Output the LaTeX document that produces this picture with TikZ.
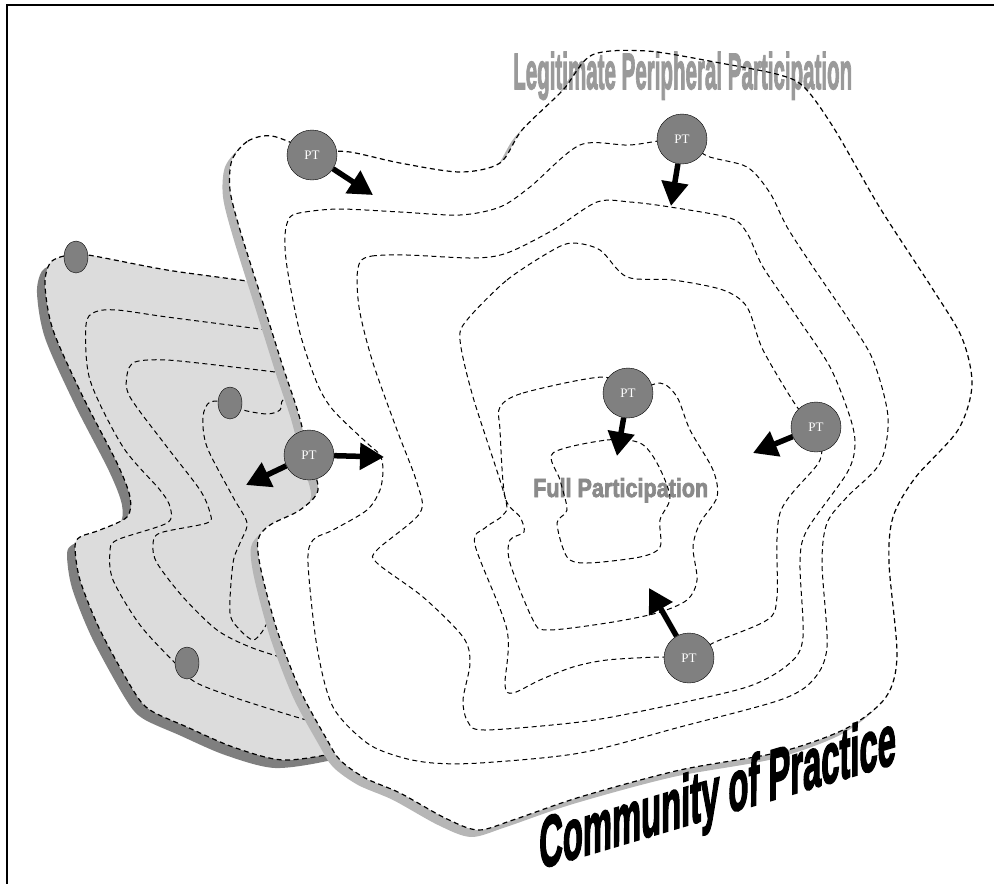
\documentclass[tikz,border=0pt]{standalone}
\usepackage{fontspec}
\setmainfont{Liberation Serif}
\newfontfamily\headfont[FakeBold=3]{Liberation Sans Bold}
\usepackage{tikz}
\usetikzlibrary{arrows.meta,shapes.geometric}
\definecolor{ptgray}{HTML}{808080}
\definecolor{cpfill}{HTML}{DCDCDC}
\definecolor{cpshade}{HTML}{7F7F7F}
\definecolor{bigshade}{HTML}{B6B6B6}
\definecolor{lppgray}{HTML}{9A9A9A}
\definecolor{fpgray}{HTML}{8A8A8A}
\newcommand{\bigedge}{plot[smooth cycle] coordinates {(232,160) (248,141) (272,136) (312,150) (350,152) (400,163) (460,172) (500,163) (522,130) (563,90) (592,55) (647,51) (720,63) (780,75) (805,88) (835,130) (880,208) (932,288) (962,338) (972,385) (958,430) (915,478) (893,517) (889,563) (897,655) (886,697) (847,728) (780,752) (680,770) (580,797) (513,820) (478,830) (445,818) (400,793) (365,778) (340,760) (326,738) (300,690) (277,630) (261,570) (258,540) (270,525) (300,510) (318,490) (309,455) (298,412) (283,367) (262,300) (240,230) (230,190)}}
\newcommand{\smalledge}{plot[smooth cycle] coordinates {(50,263) (64,256) (76,257) (88,255) (167,270) (253,282) (300,292) (320,380) (335,460) (345,520) (360,650) (370,740) (340,752) (283,760) (233,747) (187,727) (150,710) (133,690) (100,630) (80,580) (75,547) (80,537) (100,530) (127,517) (130,497) (117,463) (83,397) (53,330) (45,285)}}
\begin{document}
\begin{tikzpicture}[x=1pt,y=-1pt,
    ring/.style={dash pattern=on 5pt off 3.5pt,line width=1pt},
    rim/.style={dash pattern=on 5pt off 3.5pt,line width=1.2pt},
    pt/.style={circle,draw,thin,fill=ptgray,minimum size=50pt,inner sep=0pt,
      text=white,font=\fontsize{13}{13}\selectfont},
    member/.style={ellipse,draw,thin,fill=ptgray,minimum width=24pt,minimum height=32pt,inner sep=0pt},
    move/.style={-{Triangle[length=24pt,width=26pt]},line width=5.5pt},
    ]
    \useasboundingbox (0,0) rectangle (994,884);
    \draw[line width=2.5pt] (7,884) -- (7,5) -- (994,5);

    % small community on the left
    \fill[cpshade,shift={(-8,8)}] \smalledge;
    \filldraw[rim,fill=cpfill] \smalledge;
    \draw[ring] plot[smooth] coordinates {(300,336) (267,330) (167,317) (117,310) (95,312) (86,325) (90,380) (123,447) (160,490) (170,507) (167,523) (117,540) (110,552) (113,580) (140,625) (175,663) (195,682) (233,697) (283,713) (317,723) (345,730)};
    \draw[ring] plot[smooth] coordinates {(300,376) (283,373) (233,367) (167,360) (135,362) (127,375) (130,397) (167,447) (200,490) (210,513) (207,523) (160,533) (153,545) (157,563) (183,597) (217,630) (250,647) (290,660) (320,668)};
    \draw[ring] plot[smooth] coordinates {(300,400) (283,400) (280,410) (267,414) (243,410) (230,403) (210,402) (203,417) (207,447) (233,497) (247,523) (240,543) (233,563) (230,613) (240,630) (253,640) (262,632) (270,620) (285,620)};

    % the community of practice
    \fill[bigshade,shift={(-7,7)}] \bigedge;
    \fill[white] \bigedge;
    \node[anchor=base west,inner sep=0pt,text=lppgray] (lpp) at (513,89)
      {\resizebox{339pt}{37pt}{\headfont Legitimate Peripheral Participation}};
    \node[anchor=base west,inner sep=0pt,text=fpgray] (fp) at (533,497)
      {\resizebox{175pt}{19pt}{\headfont Full Participation}};
    \node[anchor=base west,inner sep=0pt,rotate=16.5,xslant=0.3] (cop) at (539,869)
      {\resizebox{372pt}{50pt}{\headfont Community of Practice}};
    \draw[rim] \bigedge;
    \draw[ring] plot[smooth cycle] coordinates {(290,217) (305,212) (340,209) (400,212) (460,215) (500,207) (530,187) (580,145) (630,145) (682,139) (707,156) (747,167) (770,193) (787,227) (813,267) (847,317) (873,360) (888,417) (880,463) (847,497) (827,523) (822,563) (827,647) (813,680) (780,700) (680,727) (580,753) (480,763) (433,763) (400,757) (367,743) (333,707) (317,647) (308,563) (313,540) (333,530) (367,510) (380,490) (383,470) (380,455) (367,443) (333,410) (317,383) (300,333) (287,267) (285,235)};
    \draw[ring] plot[smooth cycle] coordinates {(360,262) (372,256) (407,255) (473,258) (507,253) (553,230) (597,202) (630,202) (670,207) (730,218) (747,233) (763,267) (797,317) (830,367) (850,417) (855,445) (847,473) (807,530) (800,563) (803,637) (790,663) (747,687) (647,710) (580,722) (485,730) (468,722) (463,700) (470,663) (463,637) (423,597) (377,563) (377,550) (420,513) (417,483) (397,430) (373,363) (360,313) (357,280)};
    \draw[ring] plot[smooth cycle] coordinates {(467,320) (507,280) (553,250) (573,243) (600,250) (627,277) (673,280) (723,290) (747,307) (763,350) (797,407) (816,427) (820,460) (780,513) (777,597) (767,620) (713,643) (689,658) (660,657) (607,660) (573,667) (540,680) (513,693) (505,685) (507,630) (475,545) (485,528) (503,515) (505,497) (473,397) (460,340)};
    \draw[ring] plot[smooth cycle] coordinates {(500,407) (523,393) (603,377) (628,393) (660,383) (677,397) (690,430) (713,470) (717,497) (700,523) (693,547) (697,580) (687,600) (657,613) (607,623) (547,630) (533,620) (510,563) (510,540) (524,532) (520,517) (505,497) (500,430)};
    \draw[ring] plot[smooth cycle] coordinates {(553,453) (607,440) (640,443) (657,463) (670,497) (660,520) (660,547) (640,557) (587,563) (567,557) (557,523) (567,510) (560,480)};

    \node[member] (m1) at (76,257) {};
    \node[member] (m2) at (230,403) {};
    \node[member] (m3) at (187,663) {};
    \node[pt] (ptA) at (312,155) {PT};
    \node[pt] (ptB) at (682,139) {PT};
    \node[pt] (ptC) at (309,455) {PT};
    \node[pt] (ptD) at (628,393) {PT};
    \node[pt] (ptE) at (816,427) {PT};
    \node[pt] (ptF) at (689,658) {PT};

    \coordinate (toA) at (373,195);
    \coordinate (toB) at (671,206);
    \coordinate (toCin) at (384,457);
    \coordinate (toCout) at (246,485);
    \coordinate (toD) at (617,456);
    \coordinate (toE) at (753,453);
    \coordinate (toF) at (649,588);
    \draw[move] (ptA) -- (toA);
    \draw[move] (ptB) -- (toB);
    \draw[move] (ptC) -- (toCin);
    \draw[move] (ptC) -- (toCout);
    \draw[move] (ptD) -- (toD);
    \draw[move] (ptE) -- (toE);
    \draw[move] (ptF) -- (toF);
\end{tikzpicture}
\end{document}
